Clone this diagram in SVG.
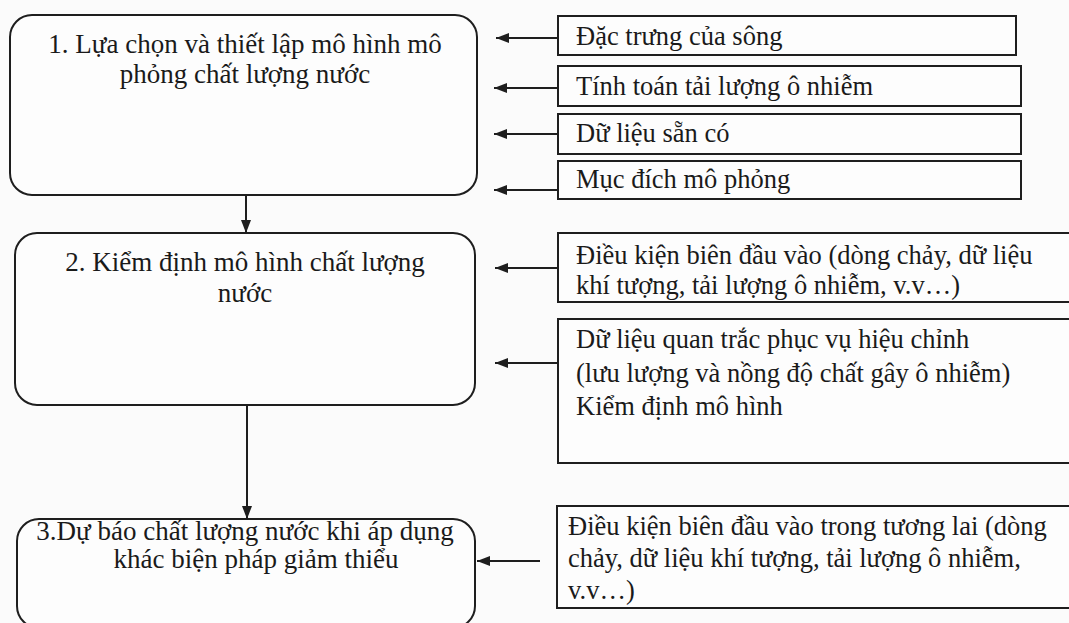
<svg xmlns="http://www.w3.org/2000/svg" width="1069" height="623" viewBox="0 0 1069 623">
  <style>
    .step { fill: #fdfdfd; stroke: #1e1e1e; stroke-width: 2; }
    .input { fill: #fdfdfd; stroke: #1e1e1e; stroke-width: 2; }
    .label { font-family: 'Liberation Serif', Tinos, 'Times New Roman', serif; font-size: 26.5px; fill: #1a1a1a; }
    .big { font-size: 27px; }
    .mid { text-anchor: middle; }
    .link { stroke: #1e1e1e; stroke-width: 2; fill: none; marker-end: url(#head); }
  </style>
  <defs>
    <marker id="head" markerUnits="userSpaceOnUse" markerWidth="13" markerHeight="10" refX="13" refY="5" orient="auto">
      <path d="M0,0 L13,5 L0,10 z" fill="#1e1e1e"/>
    </marker>
  </defs>

  <rect width="1069" height="623" fill="#fbfbfb"/>

  <!-- main workflow steps -->
  <g id="step1">
    <rect class="step" x="10" y="15" width="467" height="180" rx="22" ry="22"/>
    <text class="label big mid" x="245" y="53">1. Lựa chọn và thiết lập mô hình mô</text>
    <text class="label big mid" x="245" y="83">phỏng chất lượng nước</text>
  </g>
  <g id="step2">
    <rect class="step" x="15" y="233" width="460" height="172" rx="22" ry="22"/>
    <text class="label big mid" x="245" y="271">2. Kiểm định mô hình chất lượng</text>
    <text class="label big mid" x="245" y="302">nước</text>
  </g>
  <g id="step3">
    <rect class="step" x="17" y="519" width="458" height="109" rx="22" ry="22"/>
    <text class="label big mid" x="245" y="540">3.Dự báo chất lượng nước khi áp dụng</text>
    <text class="label big mid" x="256" y="568">khác biện pháp giảm thiểu</text>
  </g>

  <!-- inputs for step 1 -->
  <g id="in-river">
    <rect class="input" x="558" y="16" width="458" height="39"/>
    <text class="label" x="576" y="45">Đặc trưng của sông</text>
  </g>
  <g id="in-load">
    <rect class="input" x="558" y="66" width="463" height="40"/>
    <text class="label" x="576" y="95">Tính toán tải lượng ô nhiễm</text>
  </g>
  <g id="in-data">
    <rect class="input" x="558" y="114" width="463" height="40"/>
    <text class="label" x="576" y="142">Dữ liệu sẵn có</text>
  </g>
  <g id="in-purpose">
    <rect class="input" x="558" y="161" width="463" height="38"/>
    <text class="label" x="576" y="188">Mục đích mô phỏng</text>
  </g>

  <!-- inputs for step 2 -->
  <g id="in-boundary">
    <rect class="input" x="558" y="233" width="514" height="69"/>
    <text class="label" x="576" y="264">Điều kiện biên đầu vào (dòng chảy, dữ liệu</text>
    <text class="label" x="576" y="294">khí tượng, tải lượng ô nhiễm, v.v…)</text>
  </g>
  <g id="in-observed">
    <rect class="input" x="558" y="319" width="514" height="144"/>
    <text class="label" x="576" y="348">Dữ liệu quan trắc phục vụ hiệu chỉnh</text>
    <text class="label" x="576" y="382">(lưu lượng và nồng độ chất gây ô nhiễm)</text>
    <text class="label" x="576" y="415">Kiểm định mô hình</text>
  </g>

  <!-- inputs for step 3 -->
  <g id="in-future">
    <rect class="input" x="557" y="506" width="515" height="102"/>
    <text class="label" x="568" y="535">Điều kiện biên đầu vào trong tương lai (dòng</text>
    <text class="label" x="568" y="567">chảy, dữ liệu khí tượng, tải lượng ô nhiễm,</text>
    <text class="label" x="568" y="599">v.v…)</text>
  </g>

  <!-- connectors -->
  <g id="connectors">
    <line class="link" x1="246" y1="195" x2="246" y2="233"/>
    <line class="link" x1="247" y1="405" x2="247" y2="519"/>
    <line class="link" x1="558" y1="38" x2="496" y2="38"/>
    <line class="link" x1="558" y1="88" x2="494" y2="88"/>
    <line class="link" x1="558" y1="134" x2="494" y2="134"/>
    <line class="link" x1="558" y1="190" x2="494" y2="190"/>
    <line class="link" x1="558" y1="268" x2="495" y2="268"/>
    <line class="link" x1="558" y1="363" x2="495" y2="363"/>
    <line class="link" x1="540" y1="561" x2="477" y2="561"/>
  </g>
</svg>
